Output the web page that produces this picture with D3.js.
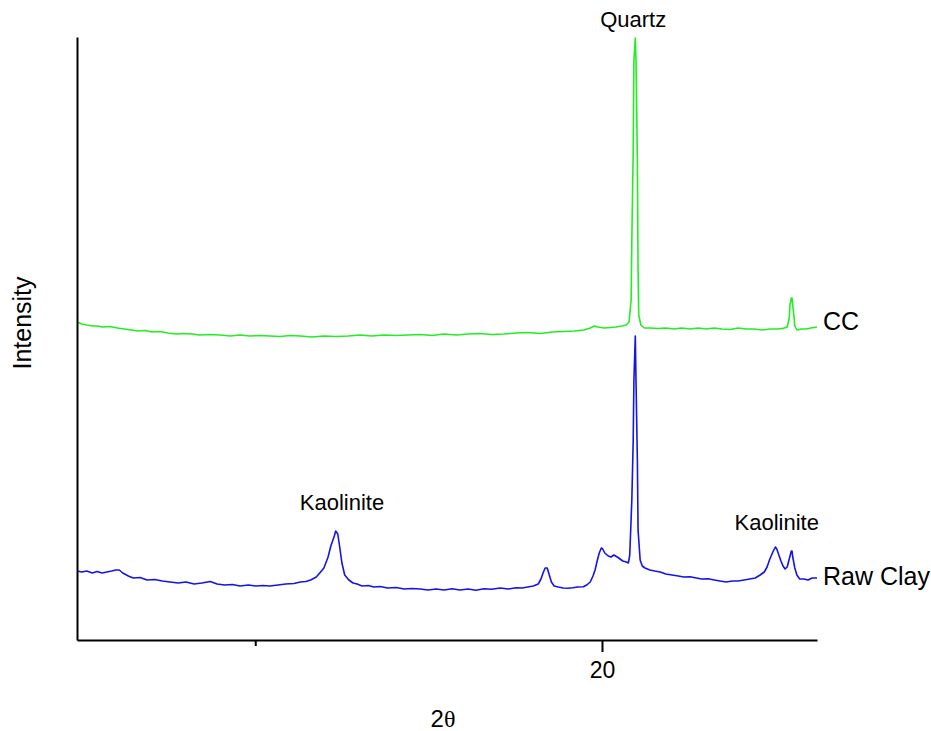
<!DOCTYPE html>
<html>
<head>
<meta charset="utf-8">
<script src="https://cdn.jsdelivr.net/npm/d3@7"></script>
<style>
  html, body { margin: 0; padding: 0; background: #fff; }
  svg { display: block; font-family: "Liberation Sans", Arial, sans-serif; }
</style>
</head>
<body>
<svg id="chart" width="931" height="731"></svg>
<script>
// ---- Data (2θ, intensity in arbitrary counts) ----
const seriesNames = ["CC", "Raw Clay"];
const xDomain = [12.43, 23.10];
const yDomain = [0, 6030];
const majorTicks = [20];
const minorTicks = [15];

const ccData = [
  [12.43,3180],[12.50,3160],[12.57,3150],[12.65,3140],[12.72,3140],[12.80,3130],[12.91,3135],[13.01,3120],
  [13.11,3110],[13.21,3100],[13.31,3090],[13.41,3095],[13.51,3080],[13.63,3085],[13.74,3070],[13.86,3060],
  [13.97,3065],[14.09,3060],[14.20,3050],[14.35,3055],[14.49,3050],[14.64,3040],[14.78,3050],[14.92,3040],
  [15.07,3045],[15.21,3040],[15.36,3035],[15.50,3045],[15.65,3040],[15.82,3030],[15.99,3040],[16.16,3035],
  [16.34,3040],[16.51,3050],[16.68,3040],[16.86,3050],[17.03,3045],[17.20,3050],[17.38,3055],[17.55,3045],
  [17.72,3060],[17.90,3050],[18.07,3060],[18.24,3065],[18.41,3055],[18.59,3060],[18.76,3070],[18.93,3075],
  [19.11,3065],[19.28,3080],[19.45,3085],[19.60,3090],[19.74,3100],[19.83,3120],[19.89,3140],[19.94,3130],
  [20.03,3120],[20.12,3125],[20.20,3130],[20.29,3140],[20.35,3150],[20.39,3180],[20.42,3400],[20.43,4000],
  [20.45,4900],[20.46,5800],[20.48,6020],[20.49,5800],[20.51,4800],[20.52,3700],[20.53,3250],[20.56,3150],
  [20.61,3120],[20.69,3120],[20.81,3115],[20.92,3120],[21.04,3110],[21.15,3120],[21.27,3110],[21.39,3120],
  [21.50,3110],[21.62,3120],[21.73,3110],[21.85,3105],[21.96,3120],[22.08,3110],[22.19,3110],[22.31,3100],
  [22.42,3110],[22.54,3110],[22.63,3120],[22.67,3130],[22.70,3220],[22.71,3350],[22.73,3420],[22.74,3420],
  [22.75,3350],[22.77,3220],[22.78,3140],[22.81,3100],[22.87,3110],[22.94,3110],[23.01,3120],[23.10,3130]
];

const rawClayData = [
  [12.43,690],[12.50,680],[12.57,690],[12.65,670],[12.72,685],[12.79,670],[12.86,680],[12.93,690],
  [12.99,700],[13.04,700],[13.09,670],[13.17,640],[13.24,620],[13.34,625],[13.44,600],[13.55,605],
  [13.66,590],[13.77,580],[13.89,570],[14.00,580],[14.12,560],[14.23,570],[14.35,585],[14.45,560],
  [14.56,550],[14.67,555],[14.78,540],[14.90,550],[15.01,540],[15.11,545],[15.21,540],[15.33,550],
  [15.44,560],[15.56,565],[15.65,580],[15.73,585],[15.80,600],[15.88,630],[15.93,670],[15.99,720],
  [16.05,830],[16.09,940],[16.14,1040],[16.16,1090],[16.19,1060],[16.22,920],[16.25,770],[16.29,650],
  [16.35,600],[16.41,570],[16.47,560],[16.54,540],[16.63,545],[16.71,530],[16.80,535],[16.91,520],
  [17.03,525],[17.15,510],[17.26,515],[17.38,510],[17.49,500],[17.61,510],[17.72,500],[17.84,512],
  [17.95,500],[18.07,510],[18.18,498],[18.30,512],[18.41,508],[18.53,520],[18.65,510],[18.76,522],
  [18.85,520],[18.93,530],[19.01,540],[19.08,560],[19.12,610],[19.15,670],[19.18,720],[19.21,720],
  [19.24,650],[19.27,580],[19.31,540],[19.37,530],[19.44,520],[19.51,518],[19.58,522],[19.65,530],
  [19.73,532],[19.78,550],[19.83,580],[19.87,640],[19.90,700],[19.93,790],[19.96,870],[19.99,920],
  [20.01,910],[20.04,870],[20.09,840],[20.13,830],[20.17,850],[20.22,830],[20.26,810],[20.30,790],
  [20.35,780],[20.38,770],[20.40,850],[20.43,1400],[20.45,2000],[20.46,2600],[20.48,3040],[20.49,2600],
  [20.51,1800],[20.52,1100],[20.55,800],[20.58,740],[20.62,720],[20.69,700],[20.76,690],[20.84,680],
  [20.92,660],[21.01,650],[21.10,640],[21.18,630],[21.27,632],[21.36,620],[21.44,610],[21.53,612],
  [21.62,600],[21.70,590],[21.79,580],[21.88,590],[21.96,590],[22.05,600],[22.13,610],[22.21,620],
  [22.28,650],[22.34,680],[22.38,730],[22.42,810],[22.47,890],[22.50,930],[22.52,910],[22.55,850],
  [22.58,790],[22.61,740],[22.64,710],[22.67,730],[22.70,810],[22.73,890],[22.74,890],[22.75,830],
  [22.78,720],[22.81,650],[22.85,610],[22.91,610],[22.97,600],[23.03,620],[23.10,620]
];

// Peak annotations: [label, 2θ, intensity at text baseline]
const peakLabels = [
  ["Quartz", 20.45, 6130],
  ["Kaolinite", 16.25, 1300],
  ["Kaolinite", 22.52, 1100]
];
// Series labels: intensity at text baseline
const seriesLabelY = [3100, 555];

// ---- Layout ----
const svg = d3.select("#chart");
const x = d3.scaleLinear().domain(xDomain).range([77, 817]);
const y = d3.scaleLinear().domain(yDomain).range([640, 37]);

const line = d3.line().x(d => x(d[0])).y(d => y(d[1]));

svg.append("path").datum(ccData)
  .attr("d", line).attr("fill", "none")
  .attr("stroke", "#22ee22").attr("stroke-width", 1.6).attr("stroke-linejoin", "round");
svg.append("path").datum(rawClayData)
  .attr("d", line).attr("fill", "none")
  .attr("stroke", "#1414e6").attr("stroke-width", 1.6).attr("stroke-linejoin", "round");

// Axes
const xAxisMajor = d3.axisBottom(x).tickValues(majorTicks).tickSize(12).tickSizeOuter(0).tickPadding(10);
const gx = svg.append("g").attr("transform", "translate(0,640)").call(xAxisMajor);
gx.select(".domain").attr("stroke", "#000").attr("stroke-width", 2);
gx.selectAll(".tick line").attr("stroke", "#000").attr("stroke-width", 2);
gx.selectAll(".tick text").attr("font-size", 23).attr("fill", "#000")
  .attr("font-family", "Liberation Sans, Arial, sans-serif");

const xAxisMinor = d3.axisBottom(x).tickValues(minorTicks).tickSize(6).tickSizeOuter(0).tickFormat("");
const gxm = svg.append("g").attr("transform", "translate(0,640)").call(xAxisMinor);
gxm.select(".domain").remove();
gxm.selectAll(".tick line").attr("stroke", "#000").attr("stroke-width", 2);

const yAxis = d3.axisLeft(y).tickValues([]).tickSizeOuter(0);
const gy = svg.append("g").attr("transform", "translate(77,0)").call(yAxis);
gy.select(".domain").attr("stroke", "#000").attr("stroke-width", 2);

// Axis titles
const xt = svg.append("text").attr("x", 443).attr("y", 727).attr("text-anchor", "middle")
  .attr("font-size", 24).attr("fill", "#000");
xt.append("tspan").text("2");
xt.append("tspan").attr("font-family", "Liberation Serif, Times New Roman, serif").text("θ");

svg.append("text").attr("transform", "translate(31,323) rotate(-90)")
  .attr("text-anchor", "middle").attr("font-size", 25).attr("fill", "#000").text("Intensity");

// Peak labels
svg.selectAll(".peak").data(peakLabels).enter().append("text")
  .attr("class", "peak")
  .attr("x", d => x(d[1])).attr("y", d => y(d[2]))
  .attr("text-anchor", "middle").attr("font-size", 22).attr("fill", "#000")
  .text(d => d[0]);

// Series labels
svg.selectAll(".slab").data(seriesNames).enter().append("text")
  .attr("class", "slab")
  .attr("x", x(xDomain[1]) + 6).attr("y", (d, i) => y(seriesLabelY[i]))
  .attr("font-size", 25).attr("fill", "#000")
  .text(d => d);
</script>
</body>
</html>
